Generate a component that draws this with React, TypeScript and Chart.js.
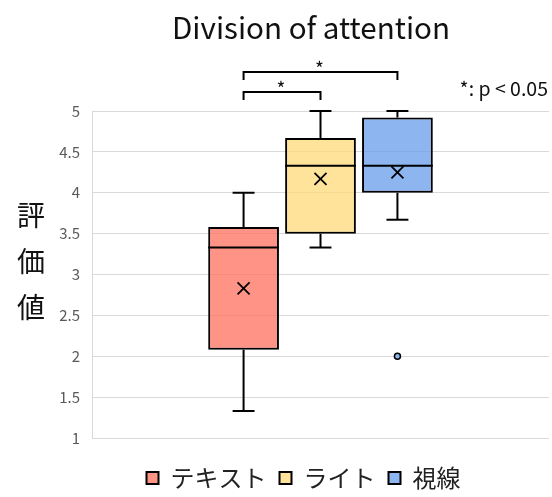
import React, { useEffect, useRef } from 'react';
import { Chart, registerables } from 'chart.js';

Chart.register(...registerables);

// ---- data ----
const groups = ['テキスト', 'ライト', '視線'];
const minValues = [1.33, 3.33, 3.67];
const q1Values = [2.08, 3.5, 4.0];
const medianValues = [3.33, 4.33, 4.33];
const q3Values = [3.58, 4.67, 4.92];
const maxValues = [4.0, 5.0, 5.0];
const meanValues = [2.83, 4.17, 4.25];
const outlierValues: number[][] = [[], [], [2.0]];
const yTickValues = [1, 1.5, 2, 2.5, 3, 3.5, 4, 4.5, 5];
const yTickLabels = ['1', '1.5', '2', '2.5', '3', '3.5', '4', '4.5', '5'];
const comparisons: [number, number, string][] = [
  [0, 1, '*'],
  [0, 2, '*'],
];
const titleText = 'Division of attention';
const yTitleChars = ['評', '価', '値'];
const noteText = '*: p < 0.05';

const fillColors = ['rgba(255,111,92,0.75)', 'rgba(255,218,122,0.75)', 'rgba(103,156,235,0.75)'];
const outlierFill = 'rgb(141,181,240)';
const FONT = '"Noto Sans CJK JP", "Noto Sans", sans-serif';

const boxExtras = {
  id: 'boxExtras',
  afterDatasetsDraw(chart: any) {
    const ctx = chart.ctx;
    const y = chart.scales.y;
    ctx.save();
    ctx.strokeStyle = '#000';
    groups.forEach((_, i) => {
      const bar = chart.getDatasetMeta(i).data[0];
      if (!bar) return;
      const x = bar.x;
      const w = bar.width;
      const cap = w * 0.155;
      const line = (x1: number, y1: number, x2: number, y2: number) => {
        ctx.beginPath();
        ctx.moveTo(x1, y1);
        ctx.lineTo(x2, y2);
        ctx.stroke();
      };
      ctx.lineWidth = 2;
      // whiskers
      line(x, y.getPixelForValue(q3Values[i]), x, y.getPixelForValue(maxValues[i]));
      line(x - cap, y.getPixelForValue(maxValues[i]), x + cap, y.getPixelForValue(maxValues[i]));
      line(x, y.getPixelForValue(q1Values[i]), x, y.getPixelForValue(minValues[i]));
      line(x - cap, y.getPixelForValue(minValues[i]), x + cap, y.getPixelForValue(minValues[i]));
      // median
      line(x - w / 2, y.getPixelForValue(medianValues[i]), x + w / 2, y.getPixelForValue(medianValues[i]));
      // mean
      const my = y.getPixelForValue(meanValues[i]);
      const m = 6;
      ctx.lineWidth = 1.8;
      line(x - m, my - m, x + m, my + m);
      line(x - m, my + m, x + m, my - m);
      // outliers
      outlierValues[i].forEach((v) => {
        const oy = y.getPixelForValue(v);
        ctx.beginPath();
        ctx.arc(x, oy, 3, 0, Math.PI * 2);
        ctx.fillStyle = outlierFill;
        ctx.fill();
        ctx.lineWidth = 1.5;
        ctx.stroke();
      });
    });
    ctx.restore();
  },
  afterDraw(chart: any) {
    const ctx = chart.ctx;
    const area = chart.chartArea;
    ctx.save();
    // title
    ctx.fillStyle = '#111';
    ctx.font = `29.6px ${FONT}`;
    ctx.textAlign = 'center';
    ctx.textBaseline = 'middle';
    ctx.fillText(titleText, 311, 28);
    // y title (stacked)
    ctx.font = `28px ${FONT}`;
    ctx.fillStyle = '#111';
    yTitleChars.forEach((c, k) => {
      ctx.fillText(c, 31, 215 + k * 46);
    });
    // note
    ctx.font = `19.5px ${FONT}`;
    ctx.textAlign = 'right';
    ctx.fillStyle = '#111';
    ctx.fillText(noteText, 548, 89);
    // brackets
    ctx.strokeStyle = '#000';
    ctx.lineWidth = 2;
    comparisons.forEach(([a, b, label], k) => {
      const xa = chart.getDatasetMeta(a).data[0].x;
      const xb = chart.getDatasetMeta(b).data[0].x;
      const by = area.top - 19 - k * 20;
      ctx.beginPath();
      ctx.moveTo(xa, by + 8);
      ctx.lineTo(xa, by);
      ctx.lineTo(xb, by);
      ctx.lineTo(xb, by + 8);
      ctx.stroke();
      ctx.font = `19px ${FONT}`;
      ctx.textAlign = 'center';
      ctx.textBaseline = 'middle';
      ctx.fillStyle = '#111';
      ctx.fillText(label, (xa + xb) / 2 - 1, by - 3);
    });
    ctx.restore();
  },
};

export default function App() {
  const ref = useRef<HTMLCanvasElement | null>(null);
  useEffect(() => {
    if (!ref.current) return;
    const chart = new Chart(ref.current, {
      type: 'bar',
      data: {
        labels: [''],
        datasets: groups.map((g, i) => ({
          label: g,
          data: [[q1Values[i], q3Values[i]]] as any,
          backgroundColor: fillColors[i],
          borderColor: '#000',
          borderWidth: 2,
          borderSkipped: false,
          categoryPercentage: 0.505,
          barPercentage: 0.92,
        })),
      },
      options: {
        responsive: false,
        animation: false,
        devicePixelRatio: 1,
        layout: { padding: { top: 111, left: 58, right: 3, bottom: -3 } },
        plugins: {
          title: { display: false },
          tooltip: { enabled: false },
          legend: {
            display: true,
            position: 'bottom',
            fullSize: true,
            labels: {
              boxWidth: 12,
              boxHeight: 12,
              padding: 13,
              color: '#222',
              font: { family: FONT, size: 24 },
            },
          },
        },
        scales: {
          x: {
            display: true,
            grid: { display: false, drawTicks: false },
            border: { display: false },
            ticks: { display: false },
            afterFit: (s: any) => {
              s.height = 15;
            },
          },
          y: {
            min: 1,
            max: 5,
            afterFit: (s: any) => {
              s.width = 34;
            },
            afterBuildTicks: (s: any) => {
              s.ticks = yTickValues.map((v) => ({ value: v }));
            },
            grid: { color: '#d9d9d9', lineWidth: 1, drawTicks: false },
            border: { display: true, color: '#d9d9d9', width: 1 },
            ticks: {
              padding: 12,
              color: '#595959',
              font: { family: FONT, size: 15 },
              callback: (v: any) => {
                const idx = yTickValues.indexOf(Number(v));
                return idx >= 0 ? yTickLabels[idx] : '';
              },
            },
          },
        },
      },
      plugins: [boxExtras],
    });
    return () => chart.destroy();
  }, []);
  return (
    <div style={{ position: 'absolute', left: 0, top: 0, width: 552, height: 497, background: '#fff' }}>
      <canvas ref={ref} width={552} height={497} />
    </div>
  );
}
